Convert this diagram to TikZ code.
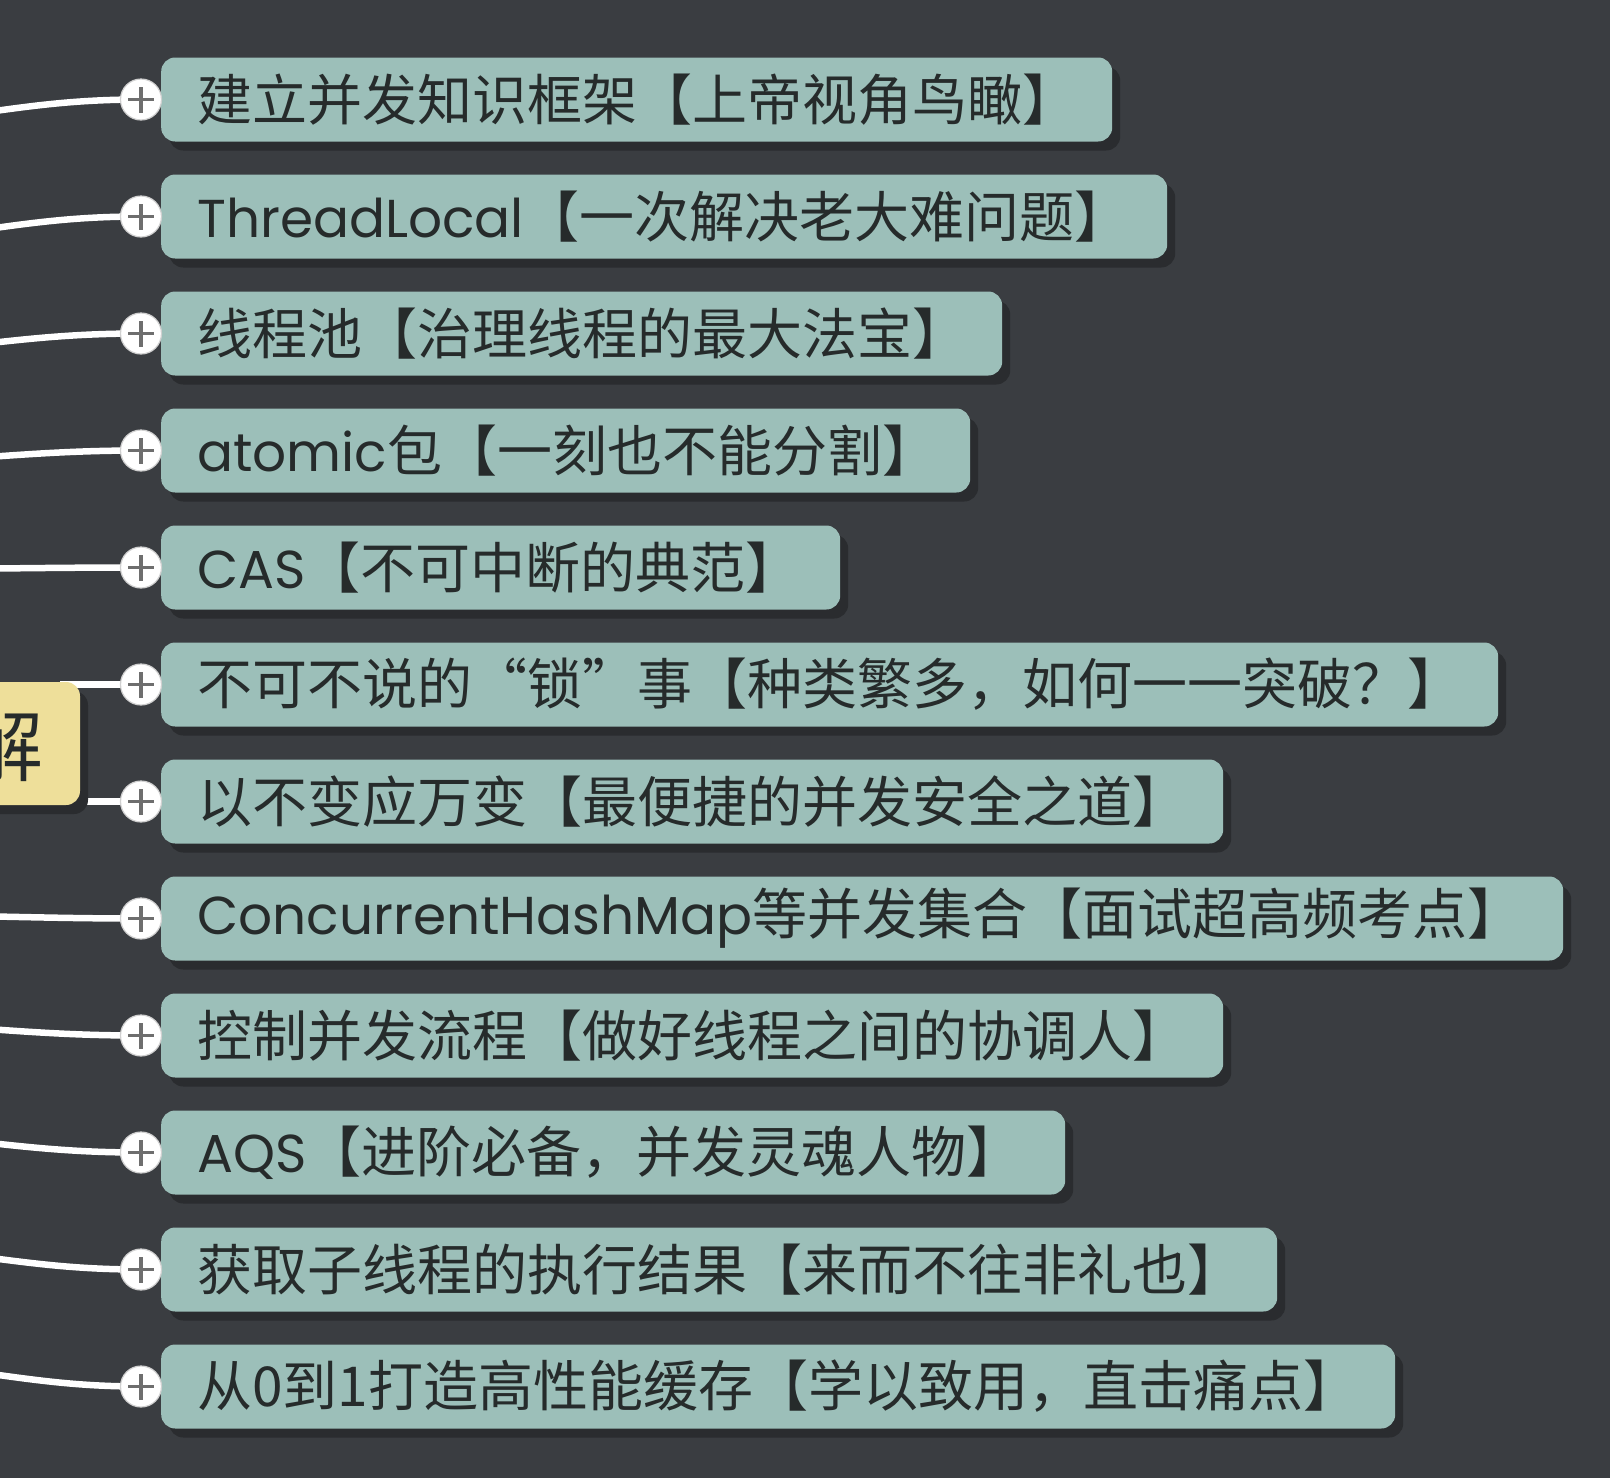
\documentclass[tikz,border=0pt]{standalone}
\usepackage{fontspec}
\newfontfamily\cjk{Noto Sans CJK SC}
\newfontfamily\lat{Poppins}[Scale=0.97]
\usetikzlibrary{shadows}
\definecolor{bgc}{HTML}{3A3D41}
\definecolor{tealc}{HTML}{9CBFB9}
\definecolor{shadowc}{HTML}{2A2C2F}
\definecolor{yellowc}{HTML}{EEDF9A}
\definecolor{textc}{HTML}{262B2B}
\definecolor{knobedge}{HTML}{D0D0D0}
\definecolor{plusc}{HTML}{6E6E6E}
\pgfdeclarelayer{background}
\pgfdeclarelayer{canvas}
\pgfsetlayers{canvas,background,main}
\tikzset{
  topicbox/.style={fill=tealc, rounded corners=14pt, minimum height=84pt, inner sep=0pt, anchor=west,
    drop shadow={shadow xshift=8pt, shadow yshift=-9pt, fill=shadowc, opacity=1}},
  centerbox/.style={fill=yellowc, rounded corners=14pt, inner sep=0pt,
    drop shadow={shadow xshift=8pt, shadow yshift=-9pt, fill=shadowc, opacity=1}},
  toptext/.style={anchor=west, inner sep=0pt, text=textc, font=\cjk\fontsize{55}{60}\selectfont},
  centertext/.style={anchor=east, inner sep=0pt, text=textc, font=\cjk\fontsize{78}{80}\selectfont},
  knob/.style={circle, fill=white, draw=knobedge, line width=1.2pt, minimum size=41pt, inner sep=0pt},
  plusline/.style={draw=plusc, line width=3.2pt},
  conn/.style={draw=white, line width=6.5pt},
}
\newcommand{\knobplus}[1]{%
  \draw[plusline] ([xshift=-13pt]#1.center) -- ([xshift=13pt]#1.center);
  \draw[plusline] ([yshift=-13pt]#1.center) -- ([yshift=13pt]#1.center);}
\begin{document}
\begin{tikzpicture}[x=1pt,y=-1pt]
\useasboundingbox (0,0) rectangle (1610,1478);
\clip (0,0) rectangle (1610,1478);
\begin{pgfonlayer}{canvas}
\fill[bgc] (0,0) rectangle (1610,1478);
\end{pgfonlayer}

% centre node
\node[centerbox, minimum width=160pt, minimum height=123pt] (c) at (0,743.5) {};
\node[centertext] (ct) at (44,746) {解};

% row 1
\node[topicbox, minimum width=951pt] (b1) at (161,99.5) {};
\node[toptext] (t1) at ([xshift=36pt]b1.west) {建立并发知识框架【上帝视角鸟瞰】};
\node[knob] (k1) at (141,99.5) {}; \knobplus{k1}
\coordinate (s1) at (-5,111);
\begin{pgfonlayer}{background}\draw[conn] (s1) .. controls (45,104) and (85,99.5) .. (k1.center);\end{pgfonlayer}

% row 2
\node[topicbox, minimum width=1006pt] (b2) at (161,216.5) {};
\node[toptext] (t2) at ([xshift=36pt]b2.west) {{\lat ThreadLocal}【一次解决老大难问题】};
\node[knob] (k2) at (141,216.5) {}; \knobplus{k2}
\coordinate (s2) at (-5,228);
\begin{pgfonlayer}{background}\draw[conn] (s2) .. controls (45,221) and (85,216.5) .. (k2.center);\end{pgfonlayer}

% row 3
\node[topicbox, minimum width=841pt] (b3) at (161,333.5) {};
\node[toptext] (t3) at ([xshift=36pt]b3.west) {线程池【治理线程的最大法宝】};
\node[knob] (k3) at (141,333.5) {}; \knobplus{k3}
\coordinate (s3) at (-5,342.5);
\begin{pgfonlayer}{background}\draw[conn] (s3) .. controls (45,337) and (85,333.5) .. (k3.center);\end{pgfonlayer}

% row 4
\node[topicbox, minimum width=809pt] (b4) at (161,450.5) {};
\node[toptext] (t4) at ([xshift=36pt]b4.west) {{\lat atomic}包【一刻也不能分割】};
\node[knob] (k4) at (141,450.5) {}; \knobplus{k4}
\coordinate (s4) at (-5,456.5);
\begin{pgfonlayer}{background}\draw[conn] (s4) .. controls (45,453) and (85,450.5) .. (k4.center);\end{pgfonlayer}

% row 5
\node[topicbox, minimum width=679pt] (b5) at (161,567.5) {};
\node[toptext] (t5) at ([xshift=36pt]b5.west) {{\lat CAS}【不可中断的典范】};
\node[knob] (k5) at (141,567.5) {}; \knobplus{k5}
\coordinate (s5) at (-5,568.5);
\begin{pgfonlayer}{background}\draw[conn] (s5) .. controls (45,568) and (85,567.5) .. (k5.center);\end{pgfonlayer}

% row 6
\node[topicbox, minimum width=1337pt] (b6) at (161,684.5) {};
\node[toptext] (t6) at ([xshift=36pt]b6.west) {不可不说的“锁”事【种类繁多，如何一一突破？】};
\node[knob] (k6) at (141,684.5) {}; \knobplus{k6}
\coordinate (s6) at (c.east |- k6);
\begin{pgfonlayer}{background}\draw[conn] ([xshift=-20pt]s6) -- (k6.center);\end{pgfonlayer}

% row 7
\node[topicbox, minimum width=1062pt] (b7) at (161,801.5) {};
\node[toptext] (t7) at ([xshift=36pt]b7.west) {以不变应万变【最便捷的并发安全之道】};
\node[knob] (k7) at (141,801.5) {}; \knobplus{k7}
\coordinate (s7) at (c.east |- k7);
\begin{pgfonlayer}{background}\draw[conn] ([xshift=-20pt]s7) -- (k7.center);\end{pgfonlayer}

% row 8
\node[topicbox, minimum width=1402pt] (b8) at (161,918.5) {};
\node[toptext] (t8) at ([xshift=36pt]b8.west) {{\lat ConcurrentHashMap}等并发集合【面试超高频考点】};
\node[knob] (k8) at (141,918.5) {}; \knobplus{k8}
\coordinate (s8) at (-5,916.5);
\begin{pgfonlayer}{background}\draw[conn] (s8) .. controls (45,917.5) and (85,918.5) .. (k8.center);\end{pgfonlayer}

% row 9
\node[topicbox, minimum width=1062pt] (b9) at (161,1035.5) {};
\node[toptext] (t9) at ([xshift=36pt]b9.west) {控制并发流程【做好线程之间的协调人】};
\node[knob] (k9) at (141,1035.5) {}; \knobplus{k9}
\coordinate (s9) at (-5,1029.5);
\begin{pgfonlayer}{background}\draw[conn] (s9) .. controls (45,1033) and (85,1035.5) .. (k9.center);\end{pgfonlayer}

% row 10
\node[topicbox, minimum width=904pt] (b10) at (161,1152.5) {};
\node[toptext] (t10) at ([xshift=36pt]b10.west) {{\lat AQS}【进阶必备，并发灵魂人物】};
\node[knob] (k10) at (141,1152.5) {}; \knobplus{k10}
\coordinate (s10) at (-5,1143.5);
\begin{pgfonlayer}{background}\draw[conn] (s10) .. controls (45,1149) and (85,1152.5) .. (k10.center);\end{pgfonlayer}

% row 11
\node[topicbox, minimum width=1116pt] (b11) at (161,1269.5) {};
\node[toptext] (t11) at ([xshift=36pt]b11.west) {获取子线程的执行结果【来而不往非礼也】};
\node[knob] (k11) at (141,1269.5) {}; \knobplus{k11}
\coordinate (s11) at (-5,1258.5);
\begin{pgfonlayer}{background}\draw[conn] (s11) .. controls (45,1265) and (85,1269.5) .. (k11.center);\end{pgfonlayer}

% row 12
\node[topicbox, minimum width=1234pt] (b12) at (161,1386.5) {};
\node[toptext] (t12) at ([xshift=36pt]b12.west) {从0到1打造高性能缓存【学以致用，直击痛点】};
\node[knob] (k12) at (141,1386.5) {}; \knobplus{k12}
\coordinate (s12) at (-5,1374.5);
\begin{pgfonlayer}{background}\draw[conn] (s12) .. controls (45,1381.5) and (85,1386.5) .. (k12.center);\end{pgfonlayer}
\end{tikzpicture}
\end{document}
